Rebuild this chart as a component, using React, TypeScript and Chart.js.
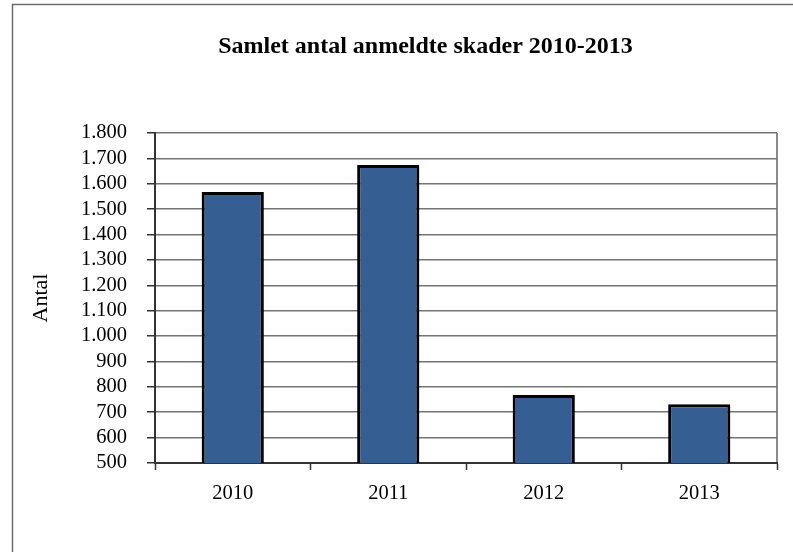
import React, { useEffect, useRef } from 'react';
import { Chart, registerables } from 'chart.js';

Chart.register(...registerables);

const CHART_TITLE = 'Samlet antal anmeldte skader 2010-2013';
const Y_TITLE = 'Antal';
const years = ['2010', '2011', '2012', '2013'];
const counts = [1568, 1674, 768, 731];
const Y_MIN = 500;
const Y_MAX = 1800;
const Y_STEP = 100;

const SERIF = '"Liberation Serif", "DejaVu Serif", serif';

const fmt = (v: number) => String(v).replace(/\B(?=(\d{3})+(?!\d))/g, '.');

const decor = {
  id: 'decor',
  beforeDraw(chart: any) {
    const { ctx, chartArea: a } = chart;
    ctx.save();
    ctx.fillStyle = '#ffffff';
    ctx.fillRect(0, 0, chart.width, chart.height);
    // outer frame (left + top visible)
    ctx.strokeStyle = '#6b6b6b';
    ctx.lineWidth = 1.5;
    ctx.beginPath();
    ctx.moveTo(12.5, chart.height);
    ctx.lineTo(12.5, 4.5);
    ctx.lineTo(chart.width, 4.5);
    ctx.stroke();
    // plot area right border
    ctx.strokeStyle = '#8a8a8a';
    ctx.lineWidth = 2;
    ctx.beginPath();
    ctx.moveTo(a.right, a.top);
    ctx.lineTo(a.right, a.bottom);
    ctx.stroke();
    // title
    ctx.fillStyle = '#000000';
    ctx.font = `bold 24px ${SERIF}`;
    ctx.textAlign = 'center';
    ctx.textBaseline = 'alphabetic';
    ctx.fillText(CHART_TITLE, 425.5, 53);
    ctx.restore();
  },
};

export default function App() {
  const ref = useRef<HTMLCanvasElement | null>(null);

  useEffect(() => {
    if (!ref.current) return;
    const chart = new Chart(ref.current, {
      type: 'bar',
      data: {
        labels: years,
        datasets: [
          {
            data: counts,
            backgroundColor: '#355E93',
            borderColor: '#000000',
            borderWidth: 3,
            borderSkipped: false,
            categoryPercentage: 1,
            barPercentage: 0.4,
          },
        ],
      },
      plugins: [decor],
      options: {
        responsive: false,
        animation: false,
        layout: { padding: { left: 20, right: 16, top: 133, bottom: 49 } },
        plugins: {
          legend: { display: false },
          tooltip: { enabled: false },
          title: { display: false },
        },
        scales: {
          x: {
            offset: true,
            afterFit: (s: any) => {
              s.height = 40;
            },
            grid: {
              display: true,
              offset: true,
              drawOnChartArea: false,
              tickLength: 7,
              tickColor: '#333333',
              tickWidth: 1.5,
            },
            border: { display: true, color: '#333333', width: 2 },
            ticks: {
              color: '#000000',
              padding: 11,
              autoSkip: false,
              maxRotation: 0,
              font: { family: SERIF, size: 20.5 },
            },
          },
          y: {
            min: Y_MIN,
            max: Y_MAX,
            afterFit: (s: any) => {
              s.width = 135;
            },
            ticks: {
              stepSize: Y_STEP,
              autoSkip: false,
              color: '#000000',
              padding: 20,
              font: { family: SERIF, size: 20.5 },
              callback: (v: any) => fmt(Number(v)),
            },
            grid: {
              color: '#747474',
              lineWidth: 1.5,
              tickLength: 8,
              tickColor: '#333333',
              tickWidth: 1.5,
            },
            border: { display: true, color: '#333333', width: 2 },
            title: {
              display: true,
              text: Y_TITLE,
              color: '#000000',
              padding: { top: 8, bottom: 0 },
              font: { family: SERIF, size: 22 },
            },
          },
        },
      },
    });
    return () => chart.destroy();
  }, []);

  return (
    <div style={{ position: 'fixed', left: 0, top: 0, width: 793, height: 552, background: '#fff' }}>
      <canvas ref={ref} width={793} height={552} style={{ display: 'block', width: 793, height: 552 }} />
    </div>
  );
}
